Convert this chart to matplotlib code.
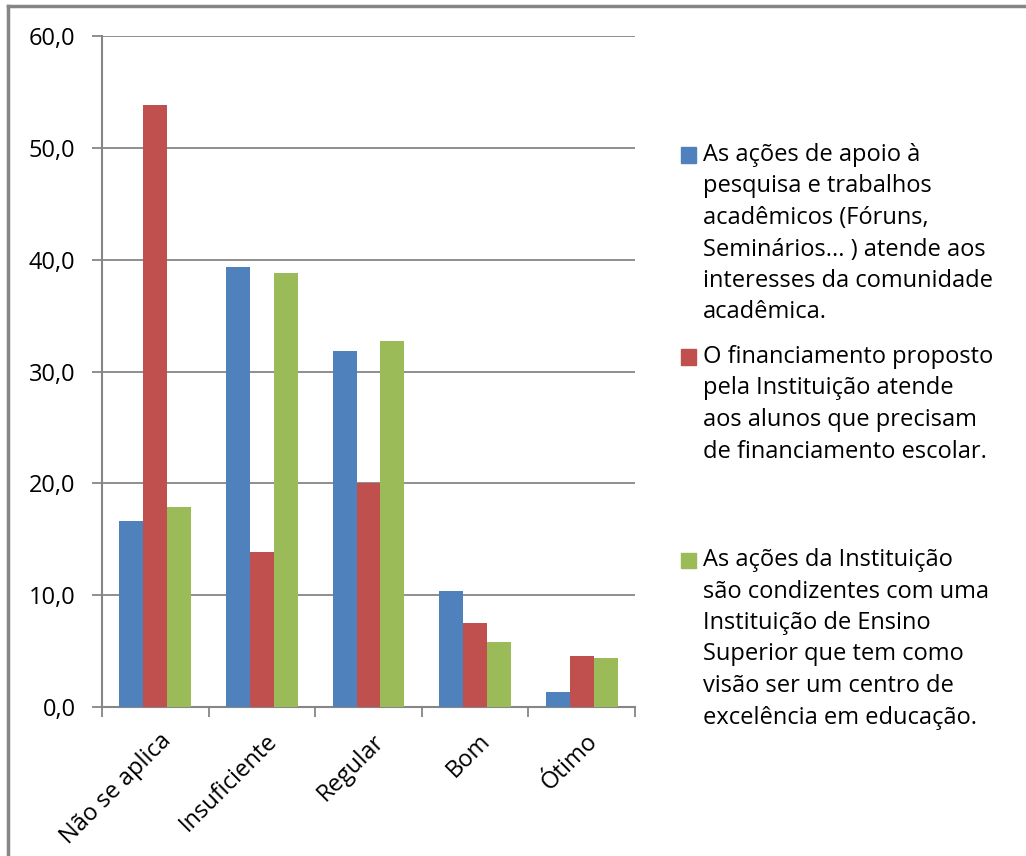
import numpy as np
import matplotlib
matplotlib.use("Agg")
import matplotlib.pyplot as plt
from matplotlib.patches import Rectangle
from matplotlib.lines import Line2D
from matplotlib.transforms import ScaledTranslation

plt.rcParams['font.family'] = ['Open Sans', 'DejaVu Sans']

categorias = ['Não se aplica', 'Insuficiente', 'Regular', 'Bom', 'Ótimo']
apoio_pesquisa = [16.6, 39.3, 31.8, 10.4, 1.3]
financiamento = [53.8, 13.9, 20.0, 7.5, 4.6]
acoes_instituicao = [17.9, 38.8, 32.7, 5.8, 4.4]

series_labels = [
    ['As ações de apoio à', 'pesquisa e trabalhos', 'acadêmicos (Fóruns,',
     'Seminários... ) atende aos', 'interesses da comunidade', 'acadêmica.'],
    ['O financiamento proposto', 'pela Instituição atende',
     'aos alunos que precisam', 'de financiamento escolar.'],
    ['As ações da Instituição', 'são condizentes com uma',
     'Instituição de Ensino', 'Superior que tem como',
     'visão ser um centro de', 'excelência em educação.'],
]
cores = ['#4F81BD', '#C0504D', '#9BBB59']
yticks = [0, 10, 20, 30, 40, 50, 60]

W, H = 1026, 856
FS = 17
fig = plt.figure(figsize=(W / 100, H / 100), dpi=100)

def fy(py):
    return 1 - py / H

ax = fig.add_axes([102 / W, fy(707), (635 - 102) / W, (707 - 36) / H])

x = np.arange(len(categorias))
bw = 0.225
for i, vals in enumerate([apoio_pesquisa, financiamento, acoes_instituicao]):
    ax.bar(x + (i - 1) * bw, vals, width=bw, color=cores[i], zorder=3)

ax.set_xlim(-0.5, len(categorias) - 0.5)
ax.set_ylim(0, 60)
ax.set_yticks(yticks)
ax.set_yticklabels([f'{v:.1f}'.replace('.', ',') for v in yticks], fontsize=FS)
ax.grid(axis='y', color='#868686', linewidth=1.3, zorder=0)
ax.set_axisbelow(True)

# x ticks at category boundaries, labels at centres
ax.set_xticks(np.arange(-0.5, len(categorias)), minor=False)
ax.set_xticklabels([])
ax.set_xticks(x, minor=True)
ax.set_xticklabels(categorias, minor=True, rotation=45, ha='right', va='center',
                   rotation_mode='anchor', fontsize=FS)
ax.tick_params(axis='x', which='minor', length=0, pad=22)
ax.tick_params(axis='x', which='major', length=7, color='#868686', width=1.3)
ax.tick_params(axis='y', length=7, color='#868686', width=1.3, pad=12)
off = ScaledTranslation(12 / 100, 0, fig.dpi_scale_trans)
for lab in ax.get_xticklabels(minor=True):
    lab.set_transform(lab.get_transform() + off)

for s in ['top', 'right']:
    ax.spines[s].set_visible(False)
for s in ['left', 'bottom']:
    ax.spines[s].set_color('#868686')
    ax.spines[s].set_linewidth(1.5)

# legend drawn by hand to keep Excel's uneven spacing
starts = [155, 357, 560]
spacing = 31.5
for i, linhas in enumerate(series_labels):
    y0 = starts[i]
    fig.patches.append(Rectangle((681 / W, fy(y0 + 7.5)), 15 / W, 15 / H,
                                 transform=fig.transFigure, color=cores[i]))
    for j, t in enumerate(linhas):
        fig.text(703 / W, fy(y0 + j * spacing), t, fontsize=FS,
                 va='center', ha='left', color='black')

# chart frame (only left and top edges visible)
fig.lines.append(Line2D([8 / W, 8 / W], [0, fy(6)], transform=fig.transFigure,
                        color='#868686', linewidth=2.5))
fig.lines.append(Line2D([8 / W, 1], [fy(6), fy(6)], transform=fig.transFigure,
                        color='#868686', linewidth=2.5))

fig.savefig('out.png', dpi=100)
